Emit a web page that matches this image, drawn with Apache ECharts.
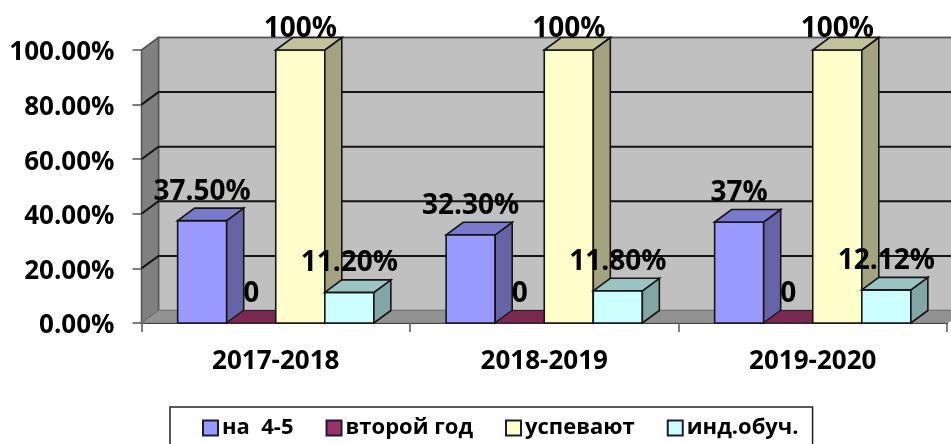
<!DOCTYPE html>
<html>
<head>
<meta charset="utf-8">
<style>
  html, body { margin: 0; padding: 0; background: #fff; overflow: hidden; }
  #chart { width: 951px; height: 444px; }
</style>
<script src="https://cdn.jsdelivr.net/npm/echarts@6/dist/echarts.min.js"></script>
</head>
<body>
<div id="chart"></div>
<script>
var years = ['2017-2018', '2018-2019', '2019-2020'];
var yTicks = [0, 20, 40, 60, 80, 100];

var seriesNames = ['на  4-5', 'второй год', 'успевают', 'инд.обуч.'];
var onFive = [37.5, 32.3, 37];
var secondYear = [0, 0, 0];
var passing = [100, 100, 100];
var individual = [11.2, 11.8, 12.12];

var onFiveLabels = ['37.50%', '32.30%', '37%'];
var secondYearLabels = ['0', '0', '0'];
var passingLabels = ['100%', '100%', '100%'];
var individualLabels = ['11.20%', '11.80%', '12.12%'];

// 3d look of the old office chart
var DEPTH_X = 17;
var DEPTH_Y = 12.5;
var BAR_RATIO = 0.1827;
var FONT = '"Open Sans", sans-serif';
var LINE = '#141414';

var faces = [
  { front: '#9999FF', side: '#6464A6', top: '#7A7ACC' },
  { front: '#993366', side: '#64213F', top: '#7A2850' },
  { front: '#FFFFCC', side: '#A3A37F', top: '#C2C29C' },
  { front: '#CCFFFF', side: '#82A5A5', top: '#9DC4C4' }
];

function poly(points, fill, stroke, width) {
  return {
    type: 'polygon',
    shape: { points: points },
    style: { fill: fill, stroke: stroke, lineWidth: width }
  };
}

function renderWalls(params, api) {
  var rect = params.coordSys;
  var left = rect.x;
  var right = rect.x + rect.width;
  var top = rect.y;
  var bottom = rect.y + rect.height;
  var children = [
    poly([[left + DEPTH_X, top - DEPTH_Y], [right + DEPTH_X, top - DEPTH_Y], [right + DEPTH_X, bottom - DEPTH_Y], [left + DEPTH_X, bottom - DEPTH_Y]], '#C0C0C0', '#666', 1.5),
    poly([[left, top], [left + DEPTH_X, top - DEPTH_Y], [left + DEPTH_X, bottom - DEPTH_Y], [left, bottom]], '#808080', '#555', 1.5),
    poly([[left, bottom], [left + DEPTH_X, bottom - DEPTH_Y], [right + DEPTH_X, bottom - DEPTH_Y], [right, bottom]], '#929292', '#777', 1)
  ];
  yTicks.forEach(function (tick) {
    if (tick === 0) return;
    var y = api.coord([0, tick])[1];
    var stroke = tick === 100 ? '#555' : LINE;
    children.push({
      type: 'polyline',
      shape: { points: [[left, y], [left + DEPTH_X, y - DEPTH_Y], [right + DEPTH_X, y - DEPTH_Y]] },
      style: { fill: null, stroke: stroke, lineWidth: tick === 100 ? 1.5 : 2 }
    });
  });
  return { type: 'group', children: children };
}

function makeBarRenderer(seriesIndex, labels) {
  return function (params, api) {
    var c = faces[seriesIndex];
    var base = api.coord([api.value(0), 0]);
    var head = api.coord([api.value(0), api.value(1)]);
    var band = api.size([1, 0])[0];
    var w = band * BAR_RATIO;
    var x0 = base[0] + (seriesIndex - 2) * w;
    var x1 = x0 + w;
    var yb = base[1];
    var yt = head[1];
    var children = [];
    if (yb - yt > 0) {
      children.push(poly([[x0, yb], [x1, yb], [x1, yt], [x0, yt]], c.front, LINE, 1.6));
      children.push(poly([[x1, yb], [x1 + DEPTH_X, yb - DEPTH_Y], [x1 + DEPTH_X, yt - DEPTH_Y], [x1, yt]], c.side, LINE, 1.6));
    }
    children.push(poly([[x0, yt], [x0 + DEPTH_X, yt - DEPTH_Y], [x1 + DEPTH_X, yt - DEPTH_Y], [x1, yt]], c.top, LINE, yb - yt > 0 ? 1.6 : 0.8));
    children.push({
      type: 'text',
      style: {
        x: x0 + w / 2,
        // tall bars push the label against the top of the chart
        y: Math.max(29, yt - 29),
        text: labels[params.dataIndex],
        fill: '#000',
        font: 'bold 28px ' + FONT,
        align: 'center',
        verticalAlign: 'middle'
      }
    });
    return { type: 'group', children: children };
  };
}

function barSeries(seriesIndex, values, labels) {
  var data = [];
  values.forEach(function (v, i) {
    data.push([i, v]);
  });
  return {
    name: seriesNames[seriesIndex],
    type: 'custom',
    renderItem: makeBarRenderer(seriesIndex, labels),
    encode: { x: 0, y: 1 },
    itemStyle: { color: faces[seriesIndex].front, borderColor: '#1a1a3a', borderWidth: 2 },
    data: data,
    z: 3 + seriesIndex
  };
}

var chart = echarts.init(document.getElementById('chart'), null, { renderer: 'canvas' });

var option = {
  animation: false,
  backgroundColor: '#fff',
  grid: { left: 141.5, right: 4, top: 50, bottom: 121, containLabel: false },
  legend: {
    data: seriesNames,
    left: 170,
    top: 407,
    padding: [10, 14, 30, 32],
    itemWidth: 15,
    itemHeight: 15,
    itemGap: 32,
    icon: 'rect',
    borderColor: '#222',
    borderWidth: 1.5,
    backgroundColor: '#fff',
    textStyle: { fontFamily: FONT, fontWeight: 'bold', fontSize: 22, color: '#000', padding: [0, 0, 0, -1] }
  },
  xAxis: {
    type: 'category',
    data: years,
    axisLine: { lineStyle: { color: LINE, width: 2 } },
    axisTick: { show: true, length: 9, lineStyle: { color: '#555', width: 1.5 } },
    axisLabel: { fontFamily: FONT, fontWeight: 'bold', fontSize: 26, color: '#000', margin: 26 }
  },
  yAxis: {
    type: 'value',
    min: 0,
    max: 100,
    interval: 20,
    axisLine: { show: true, lineStyle: { color: LINE, width: 2 } },
    axisTick: { show: true, length: 9, lineStyle: { color: '#555', width: 1.5 } },
    splitLine: { show: false },
    axisLabel: {
      fontFamily: FONT,
      fontWeight: 'bold',
      fontSize: 26,
      color: '#000',
      margin: 27,
      // sits a little under its tick, like the reference
      verticalAlign: 'top',
      lineHeight: 6,
      formatter: function (v) { return v.toFixed(2) + '%'; }
    }
  },
  series: [
    {
      name: 'walls',
      type: 'custom',
      renderItem: renderWalls,
      encode: { x: 0, y: 1 },
      data: [[0, 0]],
      z: 1,
      silent: true
    },
    barSeries(0, onFive, onFiveLabels),
    barSeries(1, secondYear, secondYearLabels),
    barSeries(2, passing, passingLabels),
    barSeries(3, individual, individualLabels)
  ]
};

chart.setOption(option);
</script>
</body>
</html>
